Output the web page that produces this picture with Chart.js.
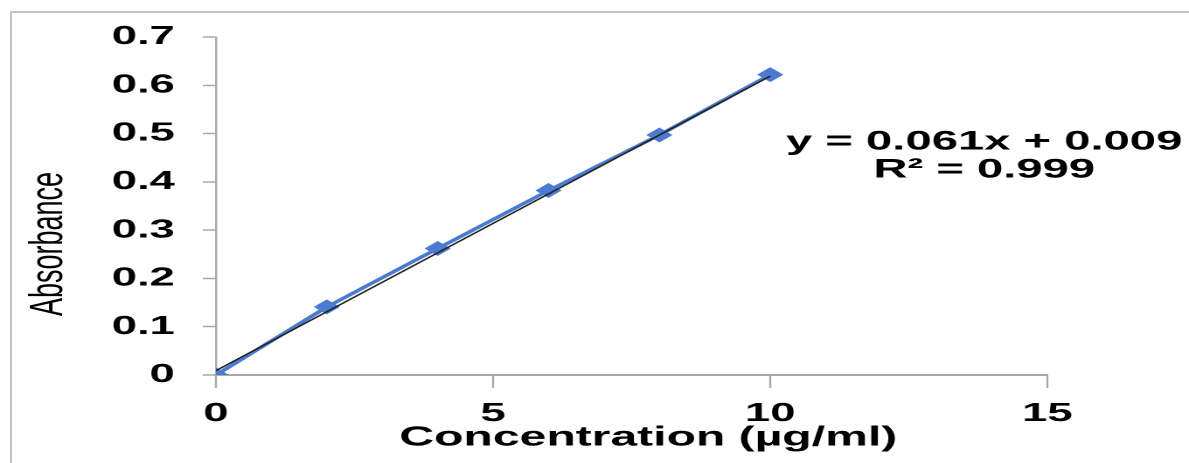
<!DOCTYPE html>
<html>
<head>
<meta charset="utf-8">
<script src="https://cdn.jsdelivr.net/npm/chart.js@4/dist/chart.umd.min.js"></script>
<style>
  html, body { margin: 0; padding: 0; background: #fff; overflow: hidden; }
  #frame { position: absolute; left: 10px; top: 11px; width: 1179px; height: 452px;
           border-left: 2px solid #c4c4c4; border-top: 2px solid #c4c4c4; }
  #wrap { position: absolute; left: 0; top: 0; width: 680px; height: 463px;
          transform: scaleX(1.7485); transform-origin: 0 0; }
</style>
</head>
<body>
<div id="frame"></div>
<div id="wrap"><canvas id="grafico" width="680" height="463"></canvas></div>
<script>
const concentracao = [0, 2, 4, 6, 8, 10]
const absorbancia = [0, 0.141, 0.262, 0.382, 0.497, 0.622]
const inclinacao = 0.061
const intercepto = 0.009
const textoEquacao = ['y = 0.061x + 0.009', 'R² = 0.999']
const tituloY = 'Absorbance'
const tituloX = 'Concentration (µg/ml)'

const azul = '#4a7bd0'
const cinza = '#a8a8a8'
const fonte = '"Liberation Sans", Arial, sans-serif'

// linha de tendencia (so os dois extremos dos dados)
const xMin = Math.min(...concentracao)
const xMax = Math.max(...concentracao)
const tendencia = [
    { x: xMin, y: inclinacao * xMin + intercepto },
    { x: xMax, y: inclinacao * xMax + intercepto }
]

const pontos = concentracao.map((c, i) => ({ x: c, y: absorbancia[i] }))

const textos = {
    id: 'textos',
    afterDatasetsDraw(chart) {
        const ctx = chart.ctx
        const sx = chart.scales.x
        const sy = chart.scales.y
        ctx.save()
        ctx.font = 'bold 27px ' + fonte
        ctx.fillStyle = '#000'
        ctx.textAlign = 'center'
        ctx.textBaseline = 'middle'
        const cx = sx.getPixelForValue(13.86)
        ctx.fillText(textoEquacao[0], cx, sy.getPixelForValue(0.482))
        ctx.fillText(textoEquacao[1], cx, sy.getPixelForValue(0.424))

        // titulo do eixo x, deslocado um pouco para a direita como no original
        ctx.font = 'bold 27.5px ' + fonte
        ctx.fillText(tituloX, sx.getPixelForValue(7.8), 438)

        // titulo do eixo y, um pouco abaixo do centro
        ctx.translate(28, 244)
        ctx.rotate(-Math.PI / 2)
        ctx.font = '27px ' + fonte
        ctx.fillText(tituloY, 0, 0)
        ctx.restore()
    }
}

const config = {
    type: 'scatter',
    data: {
        datasets: [
            {
                label: 'Tendência',
                data: tendencia,
                showLine: true,
                borderColor: '#222',
                borderWidth: 1.3,
                pointRadius: 0,
                fill: false
            },
            {
                label: 'Absorbância',
                data: pontos,
                showLine: true,
                borderColor: azul,
                backgroundColor: azul,
                borderWidth: 3,
                pointStyle: 'rectRot',
                pointRadius: 7.5,
                pointBorderWidth: 0,
                tension: 0,
                fill: false
            }
        ]
    },
    options: {
        responsive: false,
        animation: false,
        devicePixelRatio: 2,
        layout: { padding: { left: 0, top: 37, right: 81, bottom: 0 } },
        plugins: { legend: { display: false }, tooltip: { enabled: false } },
        scales: {
            x: {
                type: 'linear',
                min: 0,
                max: 15,
                afterFit: (s) => { s.height = 88 },
                ticks: { stepSize: 5, color: '#000', padding: 10, font: { family: fonte, size: 26, weight: 'bold' } },
                grid: { drawOnChartArea: false, drawTicks: true, tickLength: 13, tickColor: cinza, tickWidth: 1.2 },
                border: { color: cinza, width: 2 }
            },
            y: {
                min: 0,
                max: 0.7,
                afterFit: (s) => { s.width = 123.5 },
                ticks: { stepSize: 0.1, color: '#000', padding: 16, font: { family: fonte, size: 26, weight: 'bold' } },
                grid: { drawOnChartArea: false, drawTicks: true, tickLength: 7.5, tickColor: cinza, tickWidth: 1.5 },
                border: { color: cinza, width: 1.2 }
            }
        }
    },
    plugins: [textos]
}

const meuGrafico = new Chart(document.querySelector('#grafico'), config)
</script>
</body>
</html>
